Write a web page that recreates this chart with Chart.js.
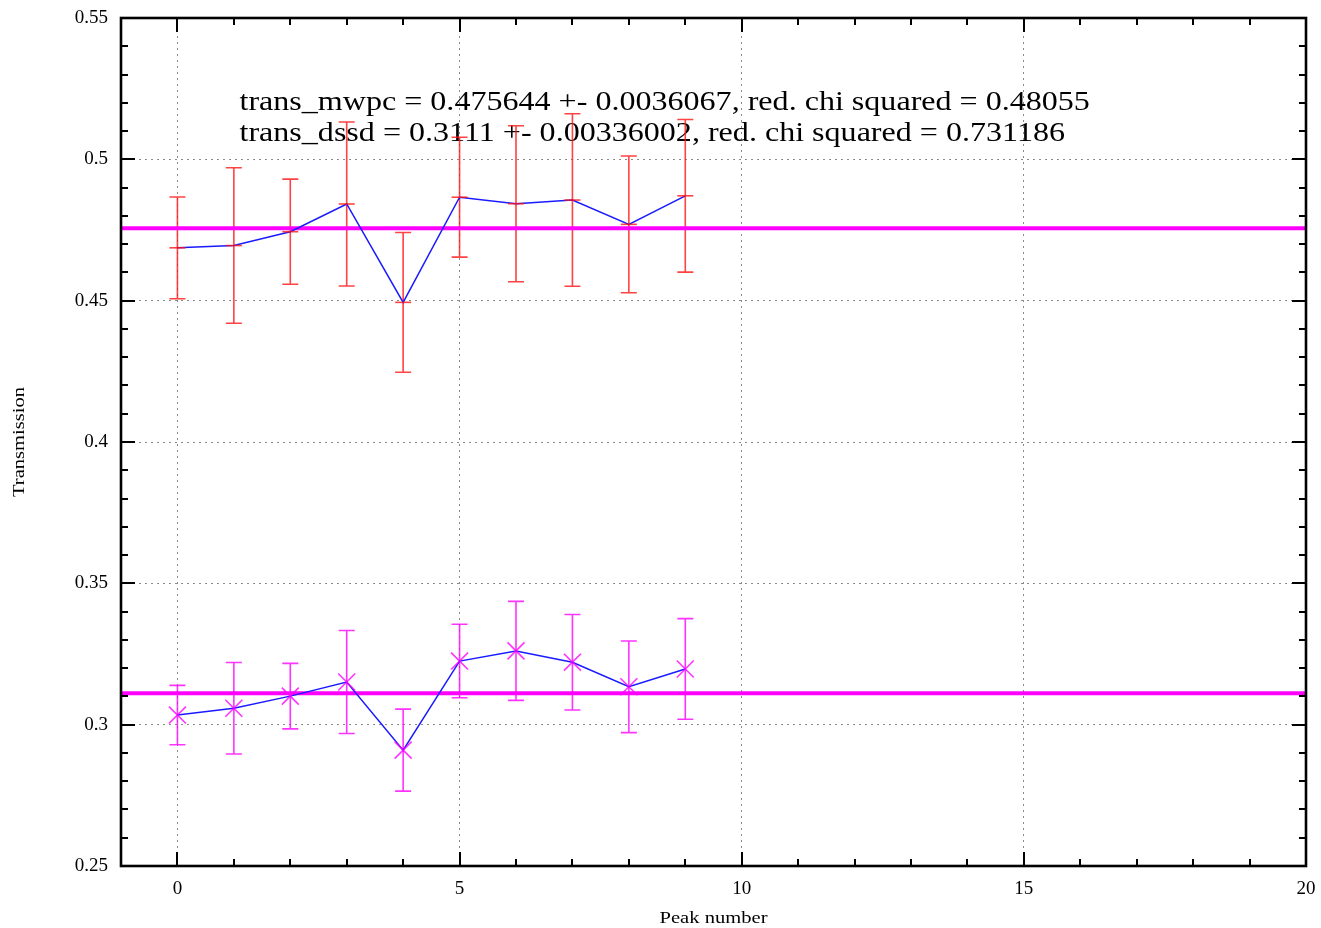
<!DOCTYPE html>
<html>
<head>
<meta charset="utf-8">
<title>Transmission per peak</title>
<script src="https://cdn.jsdelivr.net/npm/chart.js@4/dist/chart.umd.min.js"></script>
<style>
  html, body { margin: 0; padding: 0; background: #ffffff; }
  #wrap { width: 1321px; height: 928px; position: relative; }
</style>
</head>
<body>
<div id="wrap"><canvas id="c"></canvas></div>
<script>
// Peak index and measured transmissions with their uncertainties
const peaks = [0, 1, 2, 3, 4, 5, 6, 7, 8, 9];
const mwpcValues = [0.4687, 0.4695, 0.4744, 0.4842, 0.4494, 0.4866, 0.4843, 0.4856, 0.4770, 0.4871];
const mwpcErrors = [0.0180, 0.0275, 0.0186, 0.0290, 0.0247, 0.0212, 0.0276, 0.0305, 0.0242, 0.0270];
const dssdValues = [0.3034, 0.3058, 0.3101, 0.3151, 0.2910, 0.3225, 0.3261, 0.3221, 0.3134, 0.3197];
const dssdErrors = [0.0105, 0.0162, 0.0116, 0.0182, 0.0145, 0.0130, 0.0175, 0.0169, 0.0162, 0.0178];

// Constant fits
const fitMwpc = 0.475644, fitMwpcErr = 0.0036067, chiMwpc = 0.48055;
const fitDssd = 0.3111, fitDssdErr = 0.00336002, chiDssd = 0.731186;

// Axes
const xRange = [-1, 20];
const yRange = [0.25, 0.55];
const xTicks = [0, 5, 10, 15, 20];
const yTicks = [0.25, 0.3, 0.35, 0.4, 0.45, 0.5, 0.55];
const xMinorStep = 1;
const yMinorStep = 0.01;
const xTitle = 'Peak number';
const yTitle = 'Transmission';

const serif = "'Liberation Serif', 'DejaVu Serif', serif";
const textStretch = 1.21;   // wide-set text, as in the PostScript output

const pts = (xs, ys) => xs.map((x, i) => ({ x: x, y: ys[i] }));

// Draws a string horizontally stretched around (x, y)
function stretchedText(ctx, str, x, y, align) {
  ctx.save();
  ctx.translate(x, y);
  ctx.scale(textStretch, 1);
  ctx.textAlign = align;
  ctx.fillText(str, 0, 0);
  ctx.restore();
}

// Vertical error bars with caps, drawn through the chart scales
const errorBarPlugin = {
  id: 'errorBars',
  beforeDatasetsDraw(chart) {
    const ctx = chart.ctx;
    const xs = chart.scales.x, ys = chart.scales.y;
    chart.data.datasets.forEach(ds => {
      if (!ds.errors) return;
      ctx.save();
      ctx.strokeStyle = ds.errorColor;
      ctx.lineWidth = 1.6;
      ds.data.forEach((p, i) => {
        const e = ds.errors[i];
        const px = xs.getPixelForValue(p.x);
        const yt = ys.getPixelForValue(p.y + e);
        const yb = ys.getPixelForValue(p.y - e);
        ctx.beginPath();
        ctx.moveTo(px, yt); ctx.lineTo(px, yb);
        ctx.moveTo(px - 8, yt); ctx.lineTo(px + 8, yt);
        ctx.moveTo(px - 8, yb); ctx.lineTo(px + 8, yb);
        ctx.stroke();
      });
      ctx.restore();
    });
  }
};

// Fit results written inside the plot
const fitLabelPlugin = {
  id: 'fitLabels',
  beforeDatasetsDraw(chart) {
    const { ctx, chartArea: a } = chart;
    const w = a.right - a.left, h = a.bottom - a.top;
    ctx.save();
    ctx.fillStyle = '#000';
    ctx.font = '26.5px ' + serif;
    ctx.textBaseline = 'alphabetic';
    const x = a.left + 0.1 * w;
    stretchedText(ctx, 'trans_mwpc = ' + fitMwpc + ' +- ' + fitMwpcErr + ', red. chi squared = ' + chiMwpc,
                  x, a.top + 0.1085 * h, 'left');
    stretchedText(ctx, 'trans_dssd = ' + fitDssd + ' +- ' + fitDssdErr + ', red. chi squared = ' + chiDssd,
                  x, a.top + 0.1445 * h, 'left');
    ctx.restore();
  }
};

// Frame with inward major and minor ticks on all four sides, plus axis titles
const framePlugin = {
  id: 'frame',
  afterDraw(chart) {
    const { ctx, chartArea: a } = chart;
    const xs = chart.scales.x, ys = chart.scales.y;
    ctx.save();
    ctx.strokeStyle = '#000';
    ctx.lineWidth = 2;
    ctx.beginPath();
    const major = 14, minor = 7;
    for (let v = Math.ceil(xRange[0]); v <= xRange[1]; v += xMinorStep) {
      const px = Math.round(xs.getPixelForValue(v));
      const len = xTicks.includes(v) ? major : minor;
      ctx.moveTo(px, a.bottom); ctx.lineTo(px, a.bottom - len);
      ctx.moveTo(px, a.top); ctx.lineTo(px, a.top + len);
    }
    const nMinor = Math.round((yRange[1] - yRange[0]) / yMinorStep);
    for (let k = 0; k <= nMinor; k++) {
      const py = Math.round(ys.getPixelForValue(yRange[0] + k * yMinorStep));
      const len = k % 5 === 0 ? major : minor;
      ctx.moveTo(a.left, py); ctx.lineTo(a.left + len, py);
      ctx.moveTo(a.right, py); ctx.lineTo(a.right - len, py);
    }
    ctx.stroke();
    ctx.lineWidth = 2.6;
    ctx.strokeRect(a.left, a.top, a.right - a.left, a.bottom - a.top);

    // axis titles
    ctx.fillStyle = '#000';
    ctx.font = '17px ' + serif;
    ctx.textBaseline = 'middle';
    stretchedText(ctx, xTitle, (a.left + a.right) / 2, 919, 'center');
    ctx.save();
    ctx.translate(20, (a.top + a.bottom) / 2);
    ctx.rotate(-Math.PI / 2);
    stretchedText(ctx, yTitle, 0, 0, 'center');
    ctx.restore();
    ctx.restore();
  }
};

new Chart(document.getElementById('c'), {
  type: 'line',
  data: {
    datasets: [
      {
        label: 'trans_mwpc',
        data: pts(peaks, mwpcValues),
        errors: mwpcErrors,
        errorColor: 'rgba(255, 20, 20, 0.8)',
        borderColor: '#1a1aff',
        borderWidth: 1.5,
        pointStyle: 'line',
        pointRadius: 8,
        pointBorderColor: 'rgba(255, 20, 20, 0.8)',
        pointBorderWidth: 1.6,
        tension: 0,
        order: 1
      },
      {
        label: 'trans_dssd',
        data: pts(peaks, dssdValues),
        errors: dssdErrors,
        errorColor: 'rgba(255, 0, 255, 0.8)',
        borderColor: '#1a1aff',
        borderWidth: 1.5,
        pointStyle: 'crossRot',
        pointRadius: 12,
        pointBorderColor: 'rgba(255, 0, 255, 0.8)',
        pointBorderWidth: 1.6,
        tension: 0,
        order: 2
      },
      {
        label: 'fit mwpc',
        data: pts(xRange, [fitMwpc, fitMwpc]),
        borderColor: '#ff00ff',
        borderWidth: 4,
        pointRadius: 0,
        order: 3
      },
      {
        label: 'fit dssd',
        data: pts(xRange, [fitDssd, fitDssd]),
        borderColor: '#ff00ff',
        borderWidth: 4,
        pointRadius: 0,
        order: 4
      }
    ]
  },
  options: {
    responsive: true,
    maintainAspectRatio: false,
    animation: false,
    events: [],
    layout: { padding: { top: 18, right: 15, left: 0, bottom: 0 } },
    plugins: { legend: { display: false }, tooltip: { enabled: false } },
    scales: {
      x: {
        type: 'linear',
        min: xRange[0],
        max: xRange[1],
        afterBuildTicks: s => { s.ticks = xTicks.map(v => ({ value: v })); },
        afterFit: s => { s.height = 62; s.paddingLeft = 0; s.paddingRight = 0; },
        grid: { color: '#8a8a8a', lineWidth: 1, drawTicks: false },
        border: { display: false, dash: [2, 4] },
        ticks: { color: '#000', font: { family: serif, size: 19 }, padding: 12, maxRotation: 0,
                 callback: v => String(v) },
        title: { display: false }
      },
      y: {
        type: 'linear',
        min: yRange[0],
        max: yRange[1],
        afterBuildTicks: s => { s.ticks = yTicks.map(v => ({ value: v })); },
        afterFit: s => { s.width = 121; s.paddingTop = 0; s.paddingBottom = 0; },
        grid: { color: '#8a8a8a', lineWidth: 1, drawTicks: false },
        border: { display: false, dash: [2, 4] },
        ticks: { color: '#000', font: { family: serif, size: 19 }, padding: 13,
                 callback: v => String(Number(v.toFixed(2))) },
        title: { display: false }
      }
    }
  },
  plugins: [fitLabelPlugin, errorBarPlugin, framePlugin]
});
</script>
</body>
</html>
